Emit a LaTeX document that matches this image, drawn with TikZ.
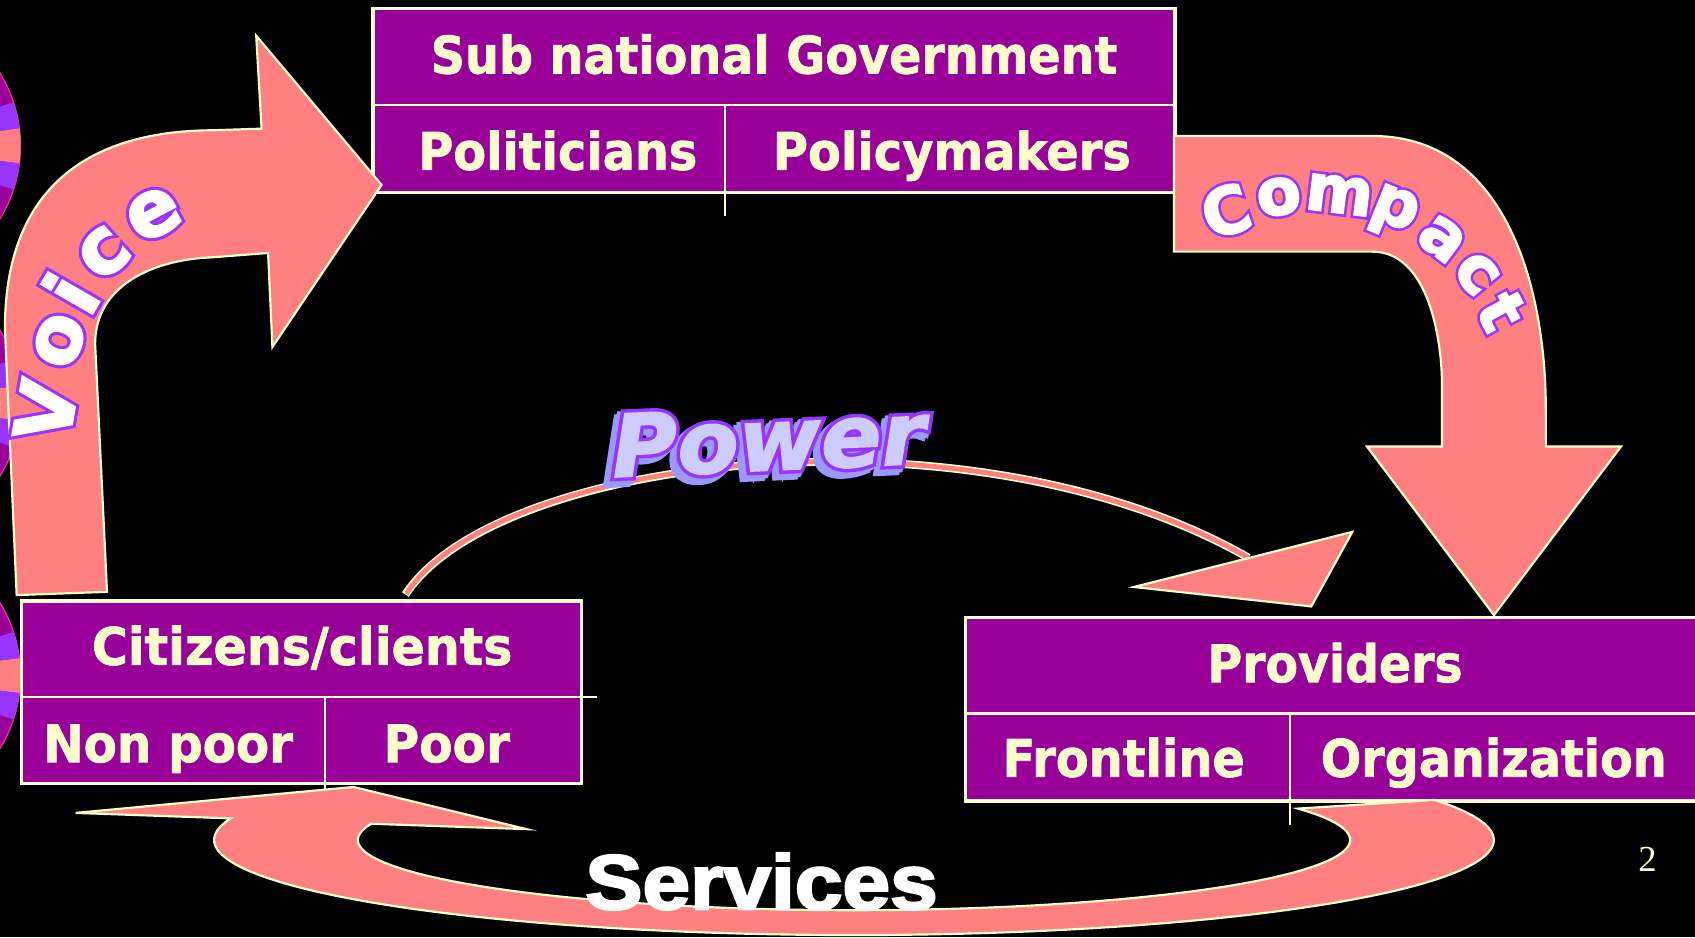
\documentclass[tikz,border=0pt]{standalone}
\usepackage{fontspec}
\usepackage{graphicx}
\newfontfamily\djboxf[FakeBold=1.5]{DejaVu Sans Bold}
\newfontfamily\djbO[FakeBold=11]{DejaVu Sans Bold}
\newfontfamily\djbW[FakeBold=3]{DejaVu Sans Bold}
\newfontfamily\djbiO[FakeBold=10]{DejaVu Sans Bold Oblique}
\newfontfamily\djbiS[FakeBold=12]{DejaVu Sans Bold Oblique}
\newfontfamily\djbi[FakeBold=2]{DejaVu Sans Bold Oblique}
\newfontfamily\lsansB[FakeBold=3]{Liberation Sans Bold}
\newfontfamily\lserif{Liberation Serif}
\definecolor{salmon}{HTML}{FF8080}
\definecolor{cream}{HTML}{FFFFCC}
\definecolor{boxpurple}{HTML}{990099}
\definecolor{ovio}{HTML}{9933FF}
\definecolor{lav}{HTML}{CCCCFF}
\definecolor{lavshadow}{HTML}{9999FF}
\definecolor{wheelpink}{HTML}{FF3399}
% outlined letter: violet emboldened copy under a white copy
\newcommand\outl[1]{\rlap{\djbO\textcolor{ovio}{#1}}{\djbW\textcolor{white}{#1}}}
\newcommand\pw[1]{\resizebox{290bp}{\height}{#1 Power}}
\newcommand\powertext{%
 \rlap{\kern-6bp\raisebox{-5bp}{\pw{\djbiS\color{lavshadow}}}}%
 \rlap{\kern-3bp\raisebox{-2.5bp}{\pw{\djbiS\color{lavshadow}}}}%
 \rlap{\pw{\djbiO\color{ovio}}}%
 \pw{\djbi\color{lav}}}
\begin{document}
\begin{tikzpicture}[x=1bp,y=-1bp,
  arrowshape/.style={fill=salmon, draw=cream, line width=2bp, line join=miter},
  tablebox/.style={fill=boxpurple, draw=cream, line width=3bp},
  tableline/.style={draw=cream, line width=2bp},
  boxtext/.style={text=cream, font=\djboxf\fontsize{48}{50}\selectfont, inner sep=0pt, anchor=base},
  vletter/.style={font=\fontsize{72}{74}\selectfont, inner sep=0pt},
  cletter/.style={font=\fontsize{60}{62}\selectfont, inner sep=0pt}]
\useasboundingbox (0,0) rectangle (1568,867);
\fill[black] (0,0) rectangle (1568,867);
\begin{scope}
\clip (0,0) rectangle (1568,867);
% decorative wheels at the left edge
\foreach \cy in {135,373,625}{
  \filldraw[fill=boxpurple, draw=wheelpink, line width=1bp] (-110,\cy) circle[radius=129];
  \fill[ovio] (-110,\cy) -- plot[domain=-18.3:-7.2, samples=6, variable=\t] ({-110+129*cos(\t)},{\cy+129*sin(\t)}) -- cycle;
  \fill[salmon] (-110,\cy) -- plot[domain=-7.2:7.2, samples=6, variable=\t] ({-110+129*cos(\t)},{\cy+129*sin(\t)}) -- cycle;
  \fill[ovio] (-110,\cy) -- plot[domain=7.2:18.3, samples=6, variable=\t] ({-110+129*cos(\t)},{\cy+129*sin(\t)}) -- cycle;
}
% tables
\draw[tablebox] (345,8) rectangle (1087,178);
\draw[tableline] (345,97) -- (1087,97);
\draw[tableline] (671,97) -- (671,200);
\draw[tablebox] (20,556) rectangle (538,725);
\draw[tableline] (20,645) -- (552,645);
\draw[tableline] (301,645) -- (301,735);
\draw[tablebox] (893,571) rectangle (1590,741);
\draw[tableline] (893,660) -- (1590,660);
\draw[tableline] (1193,660) -- (1193,763);
% Voice arrow
\filldraw[arrowshape] (15.4,550.5) -- (4.6,305) .. controls (4,180) and (75,121) .. (197,120.5)
  -- (242,119) -- (237,33) -- (353,171) -- (252,321) -- (248,234) -- (197,238)
  .. controls (140,240) and (88,265) .. (88,318) -- (99,547.5) -- cycle;
% Compact arrow
\filldraw[arrowshape] (1086,125.8) -- (1269.6,125.8) .. controls (1390,125.8) and (1430,260) .. (1430,380)
  -- (1430,413) -- (1499.6,413) -- (1382,569) -- (1264.5,413) -- (1334,413) -- (1334,358)
  .. controls (1334,310) and (1320,232.8) .. (1269.6,232.8) -- (1086,232.8) -- cycle;
% Power arrow
\draw[cream, line width=7.5bp] (375,550) .. controls (460,420) and (900,370) .. (1155,516);
\draw[salmon, line width=4.5bp] (376,549) .. controls (460,420) and (900,370) .. (1155,516);
\filldraw[arrowshape] (1049,543) -- (1251,492) -- (1213,561) -- cycle;
% Services arrow
\filldraw[arrowshape] plot[domain=-24.9:193.1, samples=90, variable=\t] ({790+592*cos(\t)},{777+88*sin(\t)})
  -- (70,752) -- (327,728) -- (487,767) -- (342,762)
  -- plot[domain=193.3:-26.5, samples=90, variable=\t] ({790+459*cos(\t)},{777+65*sin(\t)}) -- cycle;
\end{scope}
% table texts
\node[boxtext] (sng) at (716,68) {\resizebox{635bp}{\height}{Sub national Government}};
\node[boxtext] (pol) at (516,157) {\resizebox{258bp}{\height}{Politicians}};
\node[boxtext] (pmk) at (880.5,157) {\resizebox{331bp}{\height}{Policymakers}};
\node[boxtext] (cit) at (279.5,615) {\resizebox{389bp}{\height}{Citizens/clients}};
\node[boxtext] (np) at (155.5,705) {\resizebox{231bp}{\height}{Non poor}};
\node[boxtext] (poor) at (413.3,705) {\resizebox{117bp}{\height}{Poor}};
\node[boxtext] (prov) at (1235,631) {\resizebox{236bp}{\height}{Providers}};
\node[boxtext] (front) at (1039.5,718.5) {\resizebox{224bp}{\height}{Frontline}};
\node[boxtext] (org) at (1381.8,718.5) {\resizebox{320bp}{\height}{Organization}};
% Voice
\node[vletter, rotate=80] (v1) at (42,380) {\outl{V}};
\node[vletter, rotate=70] (v2) at (55,315) {\outl{o}};
\node[vletter, rotate=60] (v3) at (65,271) {\outl{i}};
\node[vletter, rotate=42] (v4) at (96,234) {\outl{c}};
\node[vletter, rotate=28] (v5) at (142,198) {\outl{e}};
% Compact
\node[cletter, rotate=18] (c1) at (1134,195) {\outl{C}};
\node[cletter, rotate=8] (c2) at (1183,182) {\outl{o}};
\node[cletter, rotate=-7] (c3) at (1239,180) {\outl{m}};
\node[cletter, rotate=-22] (c4) at (1289,197) {\outl{p}};
\node[cletter, rotate=-37] (c5) at (1334,221) {\outl{a}};
\node[cletter, rotate=-50] (c6) at (1366,253) {\outl{c}};
\node[cletter, rotate=-62] (c7) at (1389,288) {\outl{t}};
% Power
\node[font=\fontsize{80}{82}\selectfont, inner sep=0pt, rotate=2.5] (pw) at (711,409) {\powertext};
% Services
\node[font=\lsansB\fontsize{72}{74}\selectfont, text=white, inner sep=0pt, anchor=base] (srv) at (704.5,841) {\resizebox{326bp}{\height}{Services}};
% page number
\node[font=\lserif\fontsize{34}{36}\selectfont, text=cream, inner sep=0pt, anchor=base] (pg) at (1524,806) {2};
\end{tikzpicture}
\end{document}
